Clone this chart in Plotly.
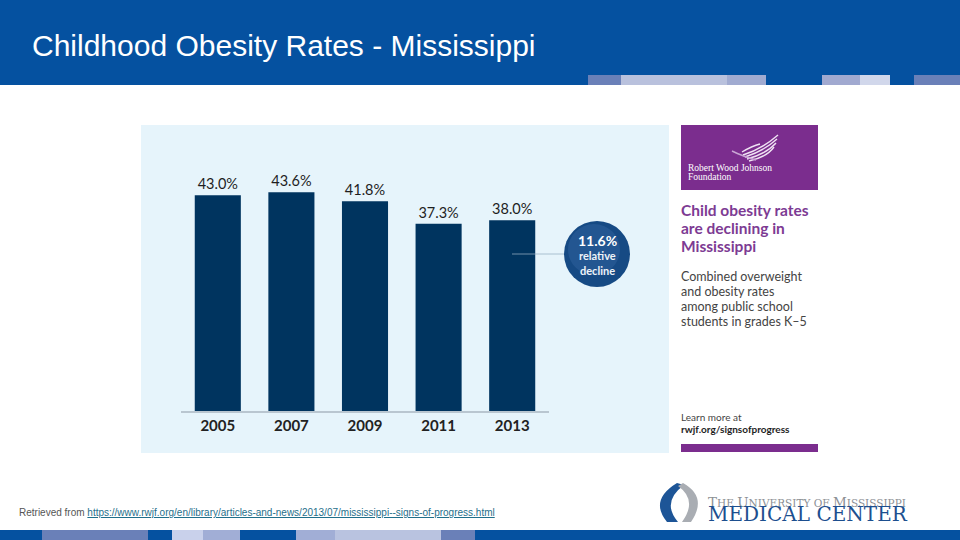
import plotly.graph_objects as go

# ---- data ----
years = ["2005", "2007", "2009", "2011", "2013"]
rates = [43.0, 43.6, 41.8, 37.3, 38.0]
relative_decline = 11.6

W, H = 960, 540
def px(x): return x / W
def py(y): return 1 - y / H

HEADER = "#0551a0"
NAVY = "#00345f"
PURPLE = "#7b2d8e"

fig = go.Figure()
fig.add_trace(go.Bar(
    x=years, y=rates,
    marker=dict(color=NAVY, line=dict(width=0)),
    texttemplate="%{y:.1f}%", textposition="outside",
    textfont=dict(family="Lato", size=14.5, color="#1e1e1e"),
    cliponaxis=False, hoverinfo="skip", width=0.626,
))

shapes = []
def rect(x0, y0, x1, y1, color, layer="below"):
    shapes.append(dict(type="rect", xref="paper", yref="paper",
                       x0=px(x0), x1=px(x1), y0=py(y1), y1=py(y0),
                       fillcolor=color, line=dict(width=0), layer=layer))

# header
rect(0, 0, 960, 85, HEADER)
top_stripes = [(588, 621, "#6a80b8"), (621, 727, "#b9c1dd"), (727, 766, "#a1abd1"),
               (822, 860, "#a1a9d0"), (860, 890, "#d1d7eb"), (914, 960, "#6a80b8")]
for a, b, c in top_stripes:
    rect(a, 75, b, 85, c)
# footer stripes
rect(0, 530, 960, 540, HEADER)
bot_stripes = [(42, 148, "#6a80b8"), (172, 203, "#c9d1eb"),
               (203, 240, "#a1aed6"), (296, 335, "#a1aed6"),
               (335, 441, "#b9c3e0"), (441, 475, "#6a80b8")]
for a, b, c in bot_stripes:
    rect(a, 530, b, 540, c)

# chart panel
rect(141, 125, 669, 453, "#e6f4fb")
# purple panel pieces
rect(681, 125, 818, 190, PURPLE)
rect(681, 444, 818, 452, PURPLE)

# connector line and bubble
shapes.append(dict(type="line", xref="paper", yref="paper",
                   x0=px(512), x1=px(566), y0=py(254), y1=py(254),
                   line=dict(color="rgba(150,175,195,0.75)", width=1), layer="above"))
cx, cy, r = 597, 254, 33
shapes.append(dict(type="circle", xref="paper", yref="paper",
                   x0=px(cx - r), x1=px(cx + r), y0=py(cy + r), y1=py(cy - r),
                   fillcolor="#164a84", line=dict(width=0), layer="above"))
shapes.append(dict(type="circle", xref="paper", yref="paper",
                   x0=px(cx - r + 4), x1=px(cx + r - 10), y0=py(cy + r - 12), y1=py(cy - r + 3),
                   fillcolor="rgba(60,110,170,0.35)", line=dict(width=0), layer="above"))

def path_px(cmds):
    out = []
    for c in cmds:
        if isinstance(c, str):
            out.append(c)
        else:
            out.append(f"{px(c[0])},{py(c[1])}")
    return " ".join(out)

# RWJF bird feathers
feathers = [((743, 155), (762, 149), (778, 135)),
            ((745, 157), (764, 151), (777, 139)),
            ((747, 159), (766, 154), (776, 143)),
            ((749, 161), (767, 157), (774, 147)),
            ((742, 152), (752, 146), (760, 144))]
for p0, c1, p1 in feathers:
    shapes.append(dict(type="path", xref="paper", yref="paper",
                       path=path_px(["M", p0, "Q", c1, p1]),
                       line=dict(color="#efe2f3", width=1.4), layer="above"))
shapes.append(dict(type="path", xref="paper", yref="paper",
                   path=path_px(["M", (732, 151), "Q", (742, 156), (756, 160)]),
                   line=dict(color="#c9a6d4", width=1.4), layer="above"))

# UMMC logo icon
shapes.append(dict(type="path", xref="paper", yref="paper",
                   path=path_px(["M", (677, 483), "Q", (649, 500), (667, 522), "L", (678, 522),
                                 "Q", (661, 502), (684, 485), "Z"]),
                   fillcolor="#1d5597", line=dict(width=0), layer="above"))
shapes.append(dict(type="path", xref="paper", yref="paper",
                   path=path_px(["M", (683, 483), "Q", (708, 497), (691, 522), "L", (682, 522),
                                 "Q", (698, 500), (678, 486), "Z"]),
                   fillcolor="#a9adb3", line=dict(width=0), layer="above"))

ann = []
def text(x, y, s, size, color, family="Liberation Sans", xanchor="left", yanchor="middle"):
    ann.append(dict(xref="paper", yref="paper", x=px(x), y=py(y), text=s, showarrow=False,
                    xanchor=xanchor, yanchor=yanchor, align="left",
                    font=dict(family=family, size=size, color=color)))

text(30, 45, "Childhood Obesity Rates - Mississippi", 30, "white")

# bubble text
text(cx, 240, f"<b>{relative_decline:.1f}%</b>", 14, "white", "Lato", "center")
text(cx, 255, "<b>relative</b>", 11, "#eef3f8", "Lato", "center")
text(cx, 270, "<b>decline</b>", 11, "#eef3f8", "Lato", "center")

# purple panel text
text(686, 168, "Robert Wood Johnson", 9.5, "white", "Liberation Serif")
text(686, 177, "Foundation", 9.5, "white", "Liberation Serif")
for i, line in enumerate(["Child obesity rates", "are declining in", "Mississippi"]):
    text(679, 210 + 18 * i, f"<b>{line}</b>", 15.5, "#7d3b93", "Lato")
for i, line in enumerate(["Combined overweight", "and obesity rates", "among public school",
                          "students in grades K\u20135"]):
    text(679, 276 + 15 * i, line, 12.5, "#444444", "Lato")
text(679, 417, "Learn more at", 10, "#444444", "Lato")
text(679, 429, "<b>rwjf.org/signsofprogress</b>", 10, "#1e1e1e", "Lato")

# footer citation
text(17, 512, "Retrieved from <span style='color:#1f6f8b;text-decoration:underline'>"
     "https://www.rwjf.org/en/library/articles-and-news/2013/07/mississippi--signs-of-progress.html</span>",
     10, "#555555")

# UMMC wordmark (one text block, two lines)
big = "<span style='font-size:13.5px'>{}</span>"
wordmark = (big.format("T") + "HE " + big.format("U") + "NIVERSITY OF " + big.format("M") + "ISSISSIPPI"
            + "<br><span style='font-size:20px;color:#1d4f8f'>MEDICAL CENTER</span>")
text(706, 510, wordmark, 10.5, "#8c8f94", "DejaVu Serif")

fig.update_layout(
    width=W, height=H, margin=dict(l=0, r=0, t=0, b=0),
    paper_bgcolor="white", plot_bgcolor="rgba(0,0,0,0)",
    showlegend=False, shapes=shapes, annotations=ann,
    xaxis=dict(domain=[px(181), px(549)], range=[-0.5, 4.5], type="category",
               showgrid=False, zeroline=False, showline=True, linecolor="#b9c6d0", linewidth=1.5,
               ticks="", tickfont=dict(family="Lato", size=15, color="#222222"),
               ticklabelstandoff=0, fixedrange=True,
               tickprefix="<b>", ticksuffix="</b>"),
    yaxis=dict(domain=[py(411), py(160)], range=[0, 50], visible=False, fixedrange=True),
)

fig.write_html("out.html", config={"displayModeBar": False},
               post_script="document.body.style.margin='0';document.body.style.padding='0';")
